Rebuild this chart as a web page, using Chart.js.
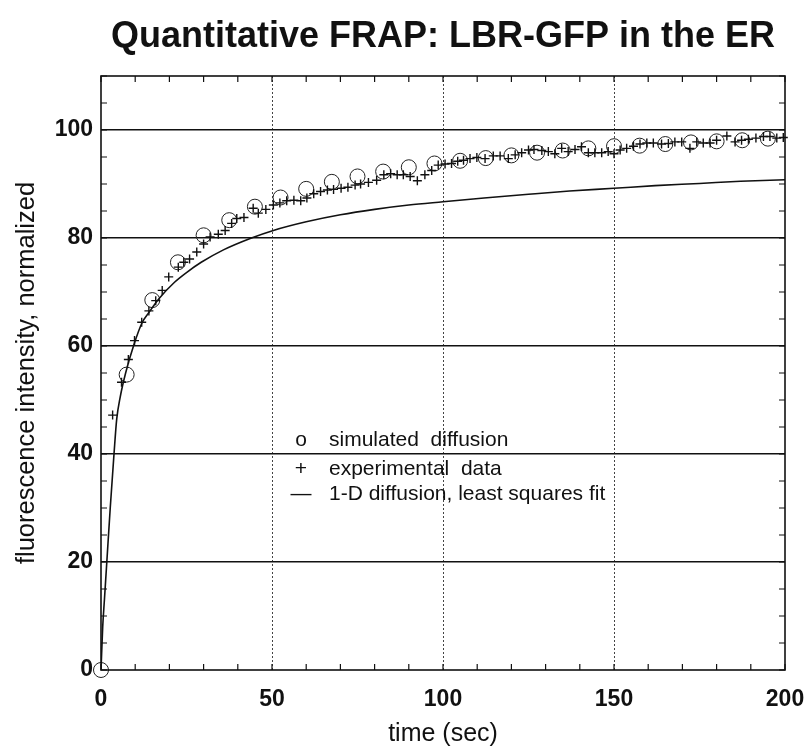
<!DOCTYPE html>
<html>
<head>
<meta charset="utf-8">
<script src="https://cdn.jsdelivr.net/npm/chart.js@4.4.0/dist/chart.umd.min.js"></script>
<style>
  html, body { margin: 0; padding: 0; background: #fff; }
  #wrap { width: 806px; height: 749px; }
</style>
</head>
<body>
<div id="wrap"><canvas id="myCanvas" width="806" height="749"></canvas></div>
<script>
// simulated diffusion (circles)
const simTime = [0, 7.5, 15, 22.5, 30, 37.5, 45, 52.5, 60, 67.5, 75, 82.5, 90, 97.5,
   105, 112.5, 120, 127.5, 135, 142.5, 150, 157.5, 165, 172.5, 180, 187.5, 195];
const simValue = [0, 54.7, 68.5, 75.5, 80.5, 83.3, 85.8, 87.5, 89.1, 90.4, 91.4, 92.3, 93.1, 93.8,
   94.3, 94.8, 95.3, 95.8, 96.2, 96.6, 97.0, 97.1, 97.4, 97.7, 97.9, 98.1, 98.4];

// experimental data (crosses)
const expTime = [3.4, 6.0, 8.0, 9.8, 11.9, 14.0, 16.0, 17.9, 19.8, 22.6, 24.2, 25.9, 28.0, 30.0,
   31.9, 34.3, 36.3, 38.2, 39.7, 41.8, 44.5, 46.0, 48.2, 50.4, 52.3, 54.3, 56.4, 58.4, 60.2,
   62.2, 64.2, 66.2, 68.0, 70.2, 72.2, 74.3, 75.9, 78.2, 80.6, 82.7, 84.7, 86.6, 88.4, 90.4,
   92.5, 94.7, 96.7, 98.6, 100.6, 102.5, 104.3, 106.0, 107.9, 109.9, 112.3, 114.7, 116.7,
   119.1, 121.1, 123.0, 125.0, 126.6, 128.9, 130.8, 132.7, 134.7, 136.6, 138.6, 140.5, 142.5,
   144.4, 146.4, 148.3, 150.0, 151.8, 153.7, 155.7, 157.6, 159.6, 161.5, 163.9, 165.9, 167.8,
   169.8, 172.2, 174.2, 176.1, 178.1, 180.0, 183.0, 185.4, 187.3, 189.3, 191.5, 193.7, 195.6,
   197.6, 199.5];
const expValue = [47.2, 53.3, 57.5, 61.0, 64.4, 66.5, 68.4, 70.3, 72.8, 74.6, 75.5, 76.1, 77.4, 78.9,
   80.2, 80.7, 81.4, 82.7, 83.6, 83.8, 85.5, 84.6, 85.3, 86.1, 86.5, 86.9, 87.0, 86.9, 87.4,
   88.2, 88.6, 88.9, 89.0, 89.2, 89.4, 89.8, 90.0, 90.3, 90.7, 91.7, 91.9, 91.7, 91.7, 91.4,
   90.6, 91.7, 92.5, 93.5, 93.7, 93.8, 94.2, 94.4, 94.7, 94.9, 94.7, 95.2, 95.2,
   94.7, 95.4, 95.8, 96.3, 96.4, 96.2, 96.0, 95.6, 96.6, 96.0, 96.4, 96.9, 95.8,
   95.8, 95.8, 96.0, 95.6, 96.3, 96.6, 97.0, 97.4, 97.6, 97.6, 97.4, 97.5, 97.8,
   97.8, 96.6, 97.8, 97.6, 97.6, 98.1, 98.9, 97.8, 98.1, 98.3, 98.5, 98.8, 98.8,
   98.5, 98.6];

// 1-D diffusion least squares fit (solid line)
const fitTime = [0, 0.5, 1, 1.7, 2.7, 3.8, 4.6, 5.6, 7.2, 9.5, 12, 14, 17, 21.5, 25, 29.3,
   35.8, 44, 50.4, 60, 70, 80, 90, 100, 112, 125, 137, 150, 162, 175, 187, 200];
const fitValue = [0, 8, 13, 20, 30, 40, 46.5, 50.5, 55, 60, 64.3, 66.2, 68.8, 71.8, 73.6, 75.5,
   77.8, 80, 81.4, 83, 84.3, 85.3, 86.1, 86.7, 87.4, 88.1, 88.7, 89.2, 89.7, 90.1, 90.5, 90.8];

const xLabels = [0, 50, 100, 150, 200];
const yLabels = [0, 20, 40, 60, 80, 100];

const legendSymbols = ['o', '+', '\u2014'];
const legendTexts = ['simulated  diffusion', 'experimental  data', '1-D diffusion, least squares fit'];

const pairs = (xs, ys) => xs.map((v, i) => ({ x: v, y: ys[i] }));

const FONT = '"Liberation Sans", Arial, Helvetica, sans-serif';

// box round the plot with inward ticks on all four sides
const framePlugin = {
   id: 'frame',
   afterDatasetsDraw(chart) {
      const { ctx, chartArea: a, scales: { x, y } } = chart;
      ctx.save();
      ctx.strokeStyle = '#111';
      ctx.lineWidth = 1.2;
      ctx.beginPath();
      x.ticks.forEach(t => {
         const px = x.getPixelForValue(t.value);
         ctx.moveTo(px, a.bottom); ctx.lineTo(px, a.bottom - 6);
         ctx.moveTo(px, a.top); ctx.lineTo(px, a.top + 6);
      });
      y.ticks.forEach(t => {
         const py = y.getPixelForValue(t.value);
         ctx.moveTo(a.left, py); ctx.lineTo(a.left + 6, py);
         ctx.moveTo(a.right, py); ctx.lineTo(a.right - 6, py);
      });
      ctx.stroke();
      ctx.lineWidth = 1.6;
      ctx.strokeRect(a.left, a.top, a.right - a.left, a.bottom - a.top);
      ctx.restore();
   }
};

// text legend inside the plot
const legendPlugin = {
   id: 'textLegend',
   afterDraw(chart, args, opts) {
      const ctx = chart.ctx;
      ctx.save();
      ctx.fillStyle = '#111';
      ctx.font = '21px ' + FONT;
      ctx.textBaseline = 'alphabetic';
      legendTexts.forEach((txt, i) => {
         const by = opts.baselines[i];
         ctx.textAlign = 'center';
         ctx.fillText(legendSymbols[i], opts.symbolX, by);
         ctx.textAlign = 'left';
         ctx.fillText(txt, opts.textX, by);
      });
      ctx.restore();
   }
};

const ctx = document.getElementById('myCanvas').getContext('2d');
const myChart = new Chart(ctx, {
   data: {
      datasets: [
         {
            type: 'line',
            label: '1-D diffusion, least squares fit',
            data: pairs(fitTime, fitValue),
            borderColor: '#111',
            borderWidth: 1.6,
            pointRadius: 0,
            cubicInterpolationMode: 'monotone',
            fill: false
         },
         {
            type: 'scatter',
            label: 'experimental data',
            data: pairs(expTime, expValue),
            pointStyle: 'cross',
            pointRadius: 4.5,
            borderColor: '#111',
            borderWidth: 1.4,
            clip: false
         },
         {
            type: 'scatter',
            label: 'simulated diffusion',
            data: pairs(simTime, simValue),
            pointStyle: 'circle',
            pointRadius: 7.5,
            borderColor: '#222',
            backgroundColor: 'rgba(0,0,0,0)',
            borderWidth: 1,
            clip: false
         }
      ]
   },
   options: {
      responsive: false,
      animation: false,
      layout: { padding: 0 },
      plugins: {
         legend: { display: false },
         tooltip: { enabled: false },
         title: {
            display: true,
            fullSize: false,
            text: 'Quantitative FRAP: LBR-GFP in the ER',
            color: '#111',
            font: { family: FONT, size: 36, weight: 'bold' },
            padding: { top: 15, bottom: 17.8 }
         },
         textLegend: { symbolX: 301, textX: 329, baselines: [446, 475, 500] }
      },
      scales: {
         x: {
            type: 'linear',
            min: 0,
            max: 200,
            afterFit: s => { s.height = 79; s.paddingLeft = 0; s.paddingRight = 21; },
            border: { display: false, dash: [2, 2] },
            grid: {
               drawTicks: false,
               color: c => (c.tick && c.tick.value % 50 === 0 && c.tick.value > 0 && c.tick.value < 200) ? '#444' : 'rgba(0,0,0,0)',
               lineWidth: 1
            },
            ticks: {
               stepSize: 10,
               autoSkip: false,
               maxRotation: 0,
               padding: 16,
               color: '#111',
               font: { family: FONT, size: 23, weight: 'bold' },
               callback: v => xLabels.includes(v) ? String(v) : ''
            },
            title: {
               display: true,
               text: 'time (sec)',
               color: '#111',
               font: { family: FONT, size: 25 },
               padding: { top: 1, bottom: 0 }
            }
         },
         y: {
            type: 'linear',
            min: 0,
            max: 110,
            afterFit: s => { s.width = 101; s.paddingTop = 0; s.paddingBottom = 0; },
            border: { display: false },
            grid: {
               drawTicks: false,
               color: c => (c.tick && c.tick.value % 20 === 0 && c.tick.value > 0 && c.tick.value <= 100) ? '#111' : 'rgba(0,0,0,0)',
               lineWidth: 1.4
            },
            ticks: {
               stepSize: 5,
               autoSkip: false,
               padding: 8,
               color: '#111',
               font: { family: FONT, size: 23, weight: 'bold' },
               callback: v => yLabels.includes(v) ? String(v) : ''
            },
            title: {
               display: true,
               text: 'fluorescence intensity, normalized',
               color: '#111',
               font: { family: FONT, size: 25.5 },
               padding: { top: 11.7, bottom: 0 }
            }
         }
      }
   },
   plugins: [framePlugin, legendPlugin]
});
</script>
</body>
</html>
